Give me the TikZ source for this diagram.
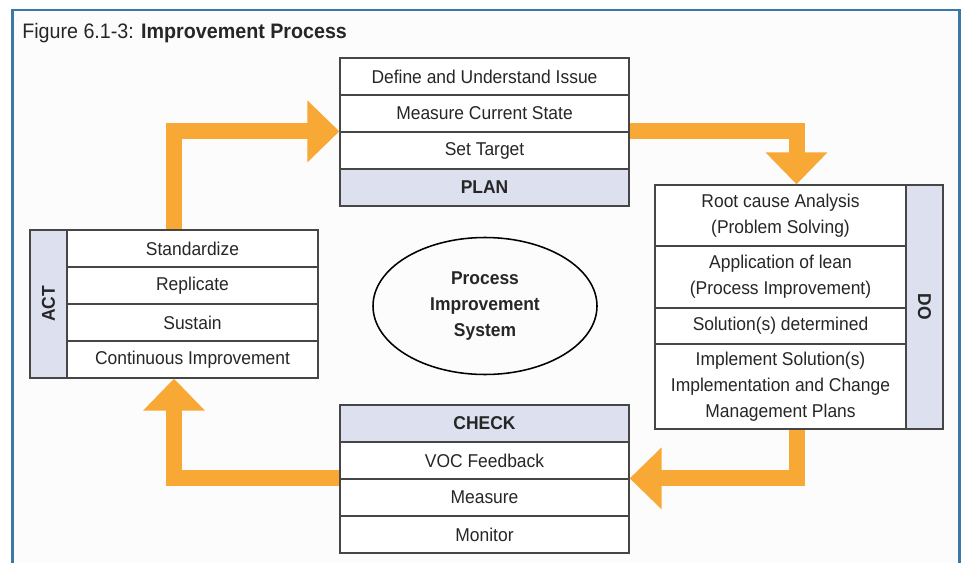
\documentclass[tikz,border=0pt]{standalone}
\usepackage{fontspec}
\setmainfont{Liberation Sans}[FakeStretch=0.94]
\usepackage{xcolor}
\usepackage{tikz}
\usetikzlibrary{arrows.meta, shapes.geometric}

\definecolor{floworange}{RGB}{248,169,53}
\definecolor{hdrblue}{RGB}{221,224,238}
\definecolor{frameblue}{RGB}{58,120,166}
\definecolor{boxline}{RGB}{70,70,70}

\tikzset{
  cell/.style={draw=boxline, line width=0.9pt, fill=white, inner sep=0pt,
    minimum width=7.225cm, minimum height=0.925cm, align=center,
    text=black!85, font=\fontsize{13.2}{18.5}\selectfont},
  narrowcell/.style={cell, minimum width=6.275cm},
  hdr/.style={cell, fill=hdrblue, font=\fontsize{13.2}{18.5}\selectfont\bfseries},
  sidelbl/.style={hdr, minimum width=#1, minimum height=0.925cm},
  flow/.style={draw=floworange, line width=0.4cm,
    -{Triangle[width=1.5cm, length=0.8cm]}}
}

\begin{document}
\begin{tikzpicture}
\useasboundingbox (0, 0) rectangle (24.05, 14.05);
\clip (0, 0) rectangle (24.05, 14.05);
\fill[white] (0, 0) rectangle (24.05, 14.05);
\draw[frameblue, line width=2pt, fill=black!1] (0.3125, -1) -- (0.3125, 13.8) -- (23.9875, 13.8) -- (23.9875, -1);
\node[anchor=west, inner sep=0pt, text=black!85, font=\fontsize{14.9}{17}\selectfont] at (0.55, 13.22) (title) {Figure 6.1-3: \textbf{Improvement Process}};

\node[cell] at (12.1125, 12.1375) (plan1) {Define and Understand Issue};
\node[cell] at (12.1125, 11.2125) (plan2) {Measure Current State};
\node[cell] at (12.1125, 10.2875) (plan3) {Set Target};
\node[hdr] at (12.1125, 9.3625) (plan4) {PLAN};

\node[narrowcell, minimum height=1.525cm] at (19.5125, 8.6625) (do1) {Root cause Analysis\\(Problem Solving)};
\node[narrowcell, minimum height=1.55cm] at (19.5125, 7.125) (do2) {Application of lean\\(Process Improvement)};
\node[narrowcell, minimum height=0.9cm] at (19.5125, 5.9) (do3) {Solution(s) determined};
\node[narrowcell, minimum height=2.125cm] at (19.5125, 4.3875) (do4) {Implement Solution(s)\\Implementation and Change\\Management Plans};
\node[sidelbl=6.1cm, rotate=-90] at (23.1125, 6.375) (dolbl) {DO};

\node[hdr] at (12.1125, 3.4625) (check1) {CHECK};
\node[cell] at (12.1125, 2.5375) (check2) {VOC Feedback};
\node[cell] at (12.1125, 1.6125) (check3) {Measure};
\node[cell] at (12.1125, 0.6875) (check4) {Monitor};

\node[narrowcell] at (4.8125, 7.8375) (act1) {Standardize};
\node[narrowcell] at (4.8125, 6.9125) (act2) {Replicate};
\node[narrowcell] at (4.8125, 5.9875) (act3) {Sustain};
\node[narrowcell] at (4.8125, 5.0625) (act4) {Continuous Improvement};
\node[sidelbl=3.7cm, rotate=90] at (1.2125, 6.45) (actlbl) {ACT};

\node[draw, ellipse, line width=1.1pt, minimum width=5.6cm, minimum height=3.425cm, align=center, font=\fontsize{13.2}{18.8}\selectfont\bfseries, text=black!85] at (12.125, 6.4) (pis) {Process\\Improvement\\System};

\coordinate (lx) at (4.35, 0);
\coordinate (rx) at (19.9125, 0);
\draw[flow] (lx |- act1.north) -- (lx |- plan3.north) -- (plan3.north west);
\draw[flow] (plan3.north east) -- (rx |- plan3.north) -- (rx |- do1.north);
\draw[flow] (rx |- do4.south) -- (rx |- check3.north) -- (check3.north east);
\draw[flow] (check3.north west) -- (lx |- check3.north) -- (lx |- act4.south);
\end{tikzpicture}
\end{document}
